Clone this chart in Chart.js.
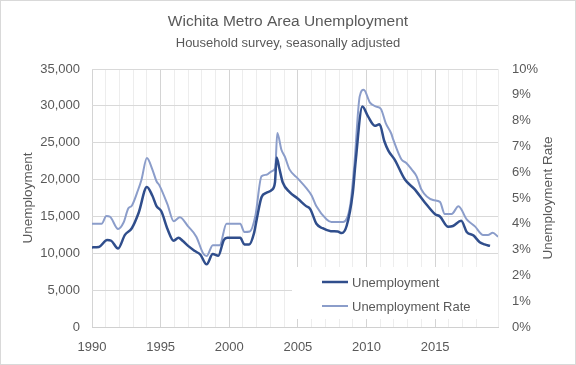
<!DOCTYPE html>
<html>
<head>
<meta charset="utf-8">
<script src="https://cdn.jsdelivr.net/npm/chart.js@4"></script>
<style>
body { margin: 0; background: #fff; }
</style>
</head>
<body>
<canvas id="myCanvas" width="576" height="365"></canvas>
<script>
// monthly series at its turning points
let unempYears = [1990.0, 1990.5, 1991.1, 1991.4, 1991.9, 1992.4, 1992.9, 1993.4, 1994.0, 1994.4, 1994.7, 1995.05, 1995.5, 1995.95, 1996.3, 1996.6, 1997.0, 1997.5, 1997.9, 1998.35, 1998.8, 1999.2, 1999.6, 1999.85, 2000.8, 2001.1, 2001.45, 2001.8, 2002.0, 2002.35, 2002.7, 2003.1, 2003.33, 2003.45, 2003.65, 2003.9, 2004.4, 2005.0, 2005.6, 2005.9, 2006.35, 2006.8, 2007.4, 2007.9, 2008.2, 2008.55, 2009.0, 2009.2, 2009.7, 2010.1, 2010.6, 2010.95, 2011.3, 2011.6, 2012.05, 2012.8, 2013.5, 2014.25, 2015.0, 2015.35, 2015.95, 2016.3, 2016.9, 2017.3, 2017.8, 2018.25, 2018.6, 2019.0]
let unempValues = [10800, 10850, 11800, 11700, 10650, 12500, 13400, 15500, 19000, 17800, 16400, 15700, 13300, 11700, 12100, 11700, 11000, 10300, 9800, 8500, 9900, 9650, 11800, 12100, 12100, 11200, 11200, 12700, 14600, 17600, 18200, 18600, 19600, 23000, 21500, 19600, 18300, 17400, 16400, 16000, 14000, 13400, 13000, 12950, 12750, 13700, 18200, 22300, 29900, 28600, 27300, 27500, 25200, 23900, 22700, 20000, 18700, 16900, 15300, 15000, 13600, 13700, 14400, 12900, 12400, 11500, 11200, 11000]

let rateYears = [1990.0, 1990.7, 1991.05, 1991.3, 1991.9, 1992.3, 1992.65, 1992.9, 1993.35, 1993.6, 1994.0, 1994.4, 1994.7, 1994.9, 1995.5, 1995.95, 1996.4, 1997.0, 1997.6, 1998.1, 1998.35, 1998.8, 1999.3, 1999.8, 2000.8, 2001.1, 2001.5, 2001.9, 2002.35, 2002.7, 2003.1, 2003.35, 2003.5, 2003.8, 2004.05, 2004.4, 2005.0, 2005.6, 2006.0, 2006.35, 2007.1, 2007.45, 2008.3, 2008.8, 2009.1, 2009.5, 2009.8, 2010.25, 2010.7, 2011.05, 2011.4, 2011.8, 2011.95, 2012.55, 2012.9, 2013.3, 2013.65, 2014.0, 2014.85, 2015.35, 2015.7, 2016.2, 2016.7, 2017.3, 2017.9, 2018.5, 2018.85, 2019.2, 2019.58]
let rateValues = [4.0, 4.0, 4.3, 4.28, 3.8, 4.05, 4.6, 4.7, 5.3, 5.7, 6.55, 6.1, 5.65, 5.5, 4.75, 4.1, 4.25, 3.9, 3.5, 2.85, 2.75, 3.17, 3.17, 4.0, 4.0, 3.68, 3.7, 4.3, 5.84, 5.9, 6.04, 6.17, 7.52, 6.87, 6.6, 6.1, 5.75, 5.39, 5.1, 4.68, 4.17, 4.07, 4.07, 4.68, 6.2, 8.93, 9.2, 8.7, 8.54, 8.45, 7.9, 7.5, 7.26, 6.49, 6.36, 6.1, 5.84, 5.33, 4.92, 4.85, 4.38, 4.38, 4.68, 4.17, 3.9, 3.57, 3.57, 3.65, 3.5]

let seriesNames = ["Unemployment", "Unemployment Rate"]
let seriesColors = ["#304e8c", "#8b9dca"]

let grey = "#595959"
let fontName = '"Liberation Sans", Arial, sans-serif'
Chart.defaults.font.family = fontName
Chart.defaults.color = grey

let legendBox = {
    id: "legendBox",
    beforeDraw(chart) {
        let c = chart.ctx
        c.save()
        c.fillStyle = "#fff"
        c.fillRect(0, 0, chart.width, chart.height)
        c.restore()
    },
    afterDraw(chart) {
        let c = chart.ctx
        let a = chart.chartArea
        c.save()
        // legend panel sits over the gridlines
        let lx = a.right - 206
        let ly = a.bottom - 60
        c.fillStyle = "#fff"
        c.fillRect(lx, ly, a.right - lx, 52)
        c.font = "13px " + fontName
        c.textBaseline = "middle"
        for (let i = 0; i < seriesNames.length; i++) {
            let y = ly + 15 + i * 24
            c.strokeStyle = seriesColors[i]
            c.lineWidth = i == 0 ? 2.5 : 2
            c.beginPath()
            c.moveTo(lx + 30, y)
            c.lineTo(lx + 56, y)
            c.stroke()
            c.fillStyle = grey
            c.fillText(seriesNames[i], lx + 60, y + 1)
        }
        // right axis title reads bottom to top
        c.font = "13.5px " + fontName
        c.translate(548, (a.top + a.bottom) / 2)
        c.rotate(-Math.PI / 2)
        c.textAlign = "center"
        c.fillText("Unemployment Rate", 0, 0)
        c.restore()
        // outer frame
        c.save()
        c.strokeStyle = "#d9d9d9"
        c.lineWidth = 1
        c.strokeRect(0.5, 0.5, chart.width - 1, chart.height - 1)
        c.restore()
    }
}

let ctx = document.querySelector("#myCanvas").getContext("2d")
let chart = new Chart(ctx, {
    type: "line",
    data: {
        datasets: [{
            label: seriesNames[0],
            data: unempYears.map((x, i) => ({ x: x, y: unempValues[i] })),
            borderColor: seriesColors[0],
            borderWidth: 2.5,
            pointRadius: 0,
            cubicInterpolationMode: "monotone",
            yAxisID: "y"
        }, {
            label: seriesNames[1],
            data: rateYears.map((x, i) => ({ x: x, y: rateValues[i] })),
            borderColor: seriesColors[1],
            borderWidth: 2,
            pointRadius: 0,
            cubicInterpolationMode: "monotone",
            yAxisID: "y2"
        }]
    },
    options: {
        responsive: false,
        animation: false,
        plugins: {
            legend: { display: false },
            tooltip: { enabled: false },
            title: {
                display: true,
                text: "Wichita Metro Area Unemployment",
                font: { size: 15.5, weight: "normal" },
                color: grey,
                padding: { top: 12.7, bottom: 0 }
            },
            subtitle: {
                display: true,
                text: "Household survey, seasonally adjusted",
                font: { size: 13 },
                color: grey,
                padding: { top: 3.9, bottom: 18.2 }
            }
        },
        scales: {
            x: {
                type: "linear",
                min: 1990,
                max: 2019.58,
                afterFit: s => { s.height = 38 },
                ticks: {
                    stepSize: 1,
                    autoSkip: false,
                    maxRotation: 0,
                    padding: 13,
                    font: { size: 13 },
                    callback: v => v % 5 == 0 ? String(v) : ""
                },
                grid: {
                    drawTicks: false,
                    color: c => c.tick && c.tick.value % 5 == 0 ? "#d4d4d4" : "#ededed"
                },
                border: { color: "#d0d0d0" }
            },
            y: {
                position: "left",
                min: 0,
                max: 35000,
                afterFit: s => { s.width = 92 },
                ticks: {
                    stepSize: 5000,
                    padding: 12,
                    font: { size: 13 },
                    callback: v => v.toLocaleString("en-US")
                },
                title: {
                    display: true,
                    text: "Unemployment",
                    font: { size: 13.5 },
                    color: grey,
                    padding: { top: 20, bottom: 0 }
                },
                grid: { drawTicks: false, color: "#d9d9d9" },
                border: { display: false }
            },
            y2: {
                position: "right",
                min: 0,
                max: 10,
                afterFit: s => { s.width = 78 },
                ticks: {
                    stepSize: 1,
                    padding: 14,
                    font: { size: 13 },
                    callback: v => v + "%"
                },
                grid: { display: false, drawTicks: false },
                border: { display: false }
            }
        }
    },
    plugins: [legendBox]
})
</script>
</body>
</html>
